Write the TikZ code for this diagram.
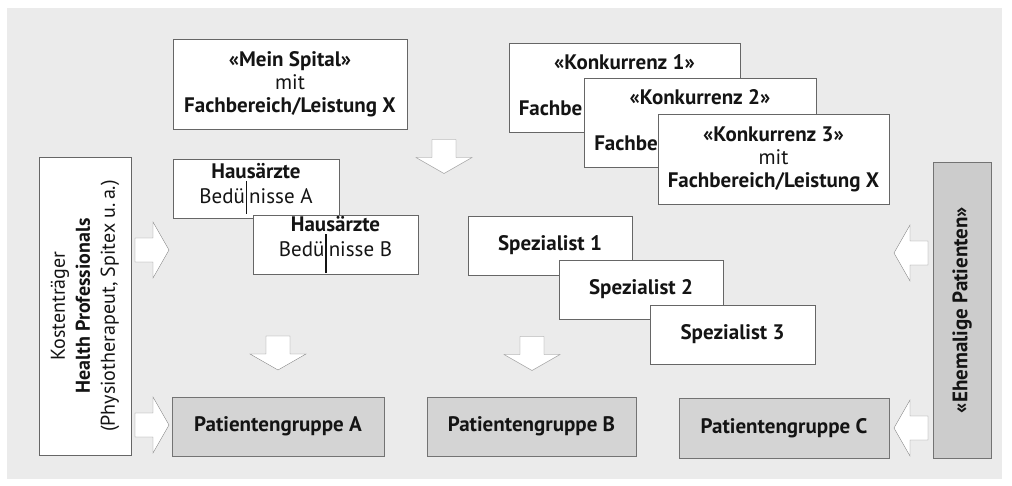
\documentclass[tikz,border=0pt]{standalone}
\usepackage{fontspec}
\setmainfont{PT Sans}
\usepackage{tikz}

\begin{document}
\begin{tikzpicture}[x=1pt, y=-1pt,
  font=\fontsize{21}{23}\selectfont, text=black!92,
  whitebox/.style={draw=black!60, fill=white, align=center, inner sep=0pt},
  graybox/.style={draw=black!55, fill=black!17, align=center, inner sep=0pt, font=\fontsize{21}{23}\selectfont\bfseries},
  pics/blockarrow/.style={code={
    \draw[draw=black!45, fill=white] (-17,-12) -- (1,-12) -- (1,-28) -- (17,0) -- (1,28) -- (1,12) -- (-17,12) -- cycle;
  }}]
  \useasboundingbox (0,0) rectangle (1012,486);
  \fill[white] (0,0) rectangle (1012,486);
  \fill[black!8] (7,8) rectangle (1002,479);

  % side boxes
  \node (kosten) [whitebox, rotate=90, minimum width=298, minimum height=92, font=\fontsize{20}{25}\selectfont] at (85,306)
    {Kostenträger\\ \textbf{Health Professionals}\\ (Physiotherapeut, Spitex u.\,a.)};
  \node (ehemalige) [graybox, rotate=90, minimum width=296, minimum height=58, fill=black!20] at (962,310)
    {«Ehemalige Patienten»};

  % hospital and competitors
  \node (spital) [whitebox, minimum width=234, minimum height=90] at (290,84)
    {\textbf{«Mein Spital»}\\ mit\\ \textbf{Fachbereich/Leistung X}};
  \node (konk1) [whitebox, minimum width=231, minimum height=89] at (624.5,87.5)
    {\textbf{«Konkurrenz 1»}\\ \phantom{mit}\\ \textbf{Fachbe\phantom{reich/Leistung X}}};
  \node (konk2) [whitebox, minimum width=232, minimum height=89] at (700,122.5)
    {\textbf{«Konkurrenz 2»}\\ \phantom{mit}\\ \textbf{Fachbe\phantom{reich/Leistung X}}};
  \node (konk3) [whitebox, minimum width=231, minimum height=90] at (773.5,159)
    {\textbf{«Konkurrenz 3»}\\ mit\\ \textbf{Fachbereich/Leistung X}};

  % referrers
  \node (hausA) [whitebox, minimum width=166, minimum height=59, font=\fontsize{21}{25}\selectfont] at (256,188.5)
    {\textbf{Hausärzte}\\ Bedü\hspace{1pt}\rule[-10pt]{1.3pt}{33pt}\hspace{2pt}nisse A};
  \node (hausB) [whitebox, minimum width=165, minimum height=59, font=\fontsize{21}{25}\selectfont] at (335.5,244.5)
    {\textbf{Hausärzte}\\ Bedü\hspace{1pt}\rule[-17pt]{1.3pt}{39pt}\hspace{2pt}nisse B};
  \node (spez1) [whitebox, minimum width=164, minimum height=59, font=\fontsize{21}{23}\selectfont\bfseries] at (550,245.5) {Spezialist 1};
  \node (spez2) [whitebox, minimum width=164, minimum height=59, font=\fontsize{21}{23}\selectfont\bfseries] at (641,289.5) {Spezialist 2};
  \node (spez3) [whitebox, minimum width=165, minimum height=59, font=\fontsize{21}{23}\selectfont\bfseries] at (732.5,334.5) {Spezialist 3};

  % patient groups
  \node (patA) [graybox, minimum width=212, minimum height=59] at (278,426.5) {Patientengruppe A};
  \node (patB) [graybox, minimum width=209, minimum height=59] at (531.5,426.5) {Patientengruppe B};
  \node (patC) [graybox, minimum width=210, minimum height=60] at (784,428) {Patientengruppe C};

  % block arrows
  \pic (arrSpital) [rotate=-90] at (444,156.5) {blockarrow};
  \pic (arrHaus) [rotate=-90] at (278,353) {blockarrow};
  \pic (arrSpez) [rotate=-90] at (532,353.5) {blockarrow};
  \pic (arrKostenOben) at (152,250) {blockarrow};
  \pic (arrKostenUnten) at (152,425) {blockarrow};
  \pic (arrEhemOben) [rotate=180] at (911,253) {blockarrow};
  \pic (arrEhemUnten) [rotate=180] at (911,428) {blockarrow};
\end{tikzpicture}
\end{document}
